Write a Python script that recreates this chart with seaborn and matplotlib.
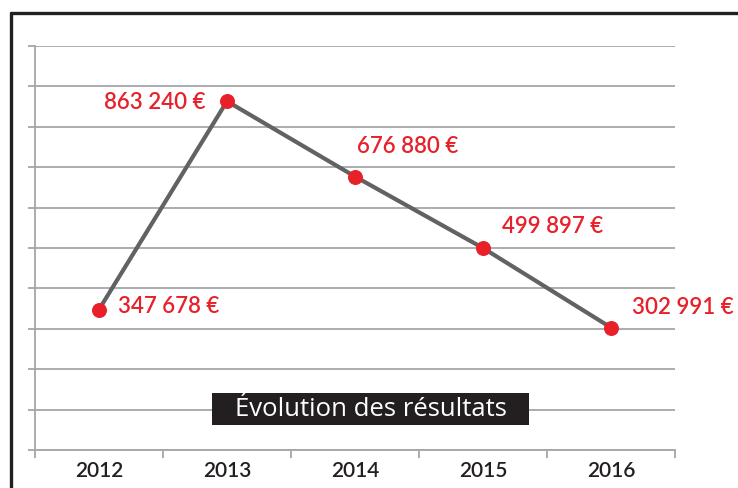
import matplotlib
matplotlib.use("Agg")
import matplotlib.pyplot as plt
from matplotlib.patches import Rectangle
from matplotlib.lines import Line2D
import seaborn as sns
import pandas as pd

years = ["2012", "2013", "2014", "2015", "2016"]
resultats = [347678, 863240, 676880, 499897, 302991]
labels = ["347 678 €", "863 240 €", "676 880 €", "499 897 €", "302 991 €"]
# label offsets in pixels (dx, dy) and alignment
offsets = [(19, 3, "left"), (-21, -1, "right"), (2, 30, "left"), (19, 22, "left"), (21, 20, "left")]
title = "Évolution des résultats"

sns.set_style("white")
plt.rcParams["font.family"] = ["Lato", "DejaVu Sans"]

red = "#e8202a"
grid_col = "#a6a6a6"
dark = "#231f20"

df = pd.DataFrame({"annee": years, "resultat": resultats})

fig = plt.figure(figsize=(7.38, 4.88), dpi=100)
ax = fig.add_axes([35 / 738, 1 - 450 / 488, 640 / 738, 404 / 488])

sns.lineplot(data=df, x="annee", y="resultat", ax=ax, color="#626262", lw=3,
             marker="o", markersize=10, markerfacecolor=red, markeredgecolor=red,
             zorder=3)

ax.set_xlim(-0.5, 4.5)
ax.set_ylim(0, 1000000)
ax.set_yticks(range(0, 1000001, 100000))
ax.set_yticklabels([])
ax.yaxis.grid(True, color=grid_col, lw=1.3)
ax.set_axisbelow(True)
ax.tick_params(axis="y", direction="out", length=5, width=1.3, color=grid_col, left=True)

ax.set_xticks(range(len(years)))
ax.set_xticklabels(years)
ax.set_xticks([i - 0.5 for i in range(len(years) + 1)], minor=True)
ax.tick_params(axis="x", which="major", length=0, pad=8, labelsize=15, labelcolor=dark)
ax.tick_params(axis="x", which="minor", direction="out", length=6, width=1.3,
               color=grid_col, bottom=True)
for lab in ax.get_xticklabels():
    lab.set_fontweight("semibold")

for s in ["top", "right"]:
    ax.spines[s].set_visible(False)
for s in ["left", "bottom"]:
    ax.spines[s].set_color(grid_col)
    ax.spines[s].set_linewidth(1.3)
ax.set_xlabel("")
ax.set_ylabel("")

for i, (lab, (dx, dy, ha)) in enumerate(zip(labels, offsets)):
    ax.annotate(lab, (i, resultats[i]), xytext=(dx, dy), textcoords="offset pixels",
                ha=ha, va="center", color=red, fontsize=16, fontweight="semibold")

# title box
ax.add_patch(Rectangle((0.2766, 0.0619), 0.4954, 0.0792, transform=ax.transAxes,
                       facecolor=dark, edgecolor="none", zorder=4))
ax.text(0.5245, 0.1005, title, transform=ax.transAxes, ha="center", va="center",
        color="white", fontsize=18.5, family=["Open Sans", "DejaVu Sans"], zorder=5)

# outer frame (top and left edges)
fig.add_artist(Line2D([11 / 738, 1.0], [1 - 12.5 / 488] * 2, color=dark, lw=2.4,
                      transform=fig.transFigure))
fig.add_artist(Line2D([11 / 738] * 2, [0, 1 - 12.5 / 488], color=dark, lw=2.4,
                      transform=fig.transFigure))

fig.savefig("out.png", dpi=100)
